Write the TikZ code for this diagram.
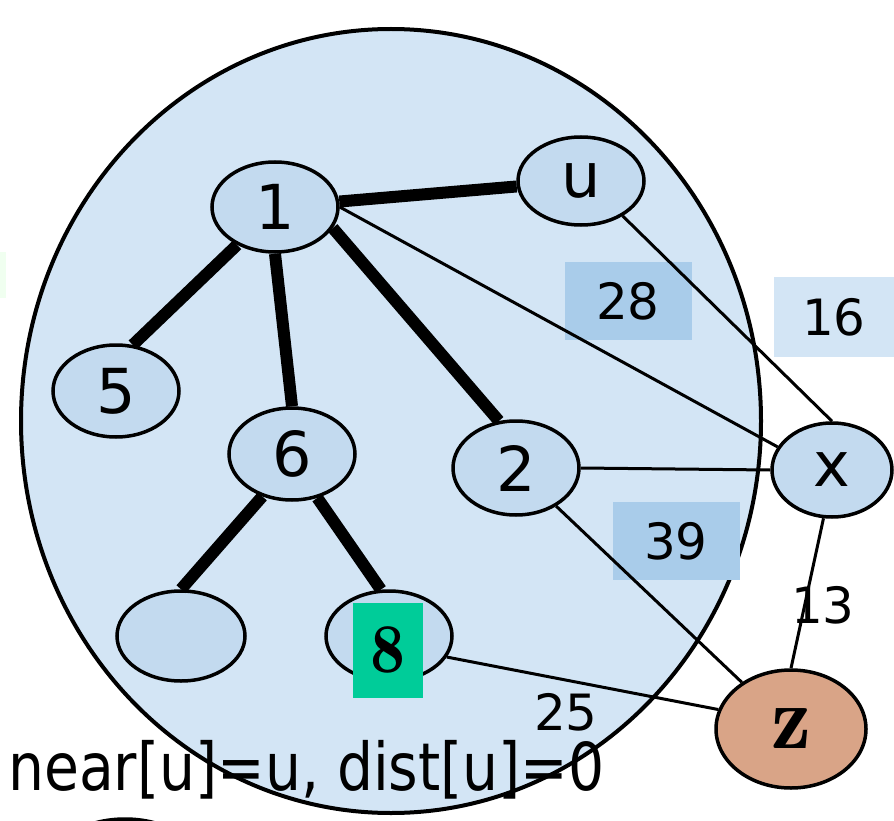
\documentclass[tikz,border=0pt]{standalone}
\usepackage{fontspec}
\usepackage{graphicx}
\setmainfont{DejaVu Sans}
\newcommand\labelserif{\fontfamily{lmr}\bfseries}
\usetikzlibrary{shapes.geometric}
\definecolor{setblue}{HTML}{D3E5F5}
\definecolor{nodeblue}{HTML}{C3DAEF}
\definecolor{boxblue}{HTML}{A9CCEA}
\definecolor{zbrown}{HTML}{D9A487}
\definecolor{mark}{HTML}{00CC99}

\begin{document}
\begin{tikzpicture}[x=1pt,y=-1pt,
    vertex/.style={
      ellipse,
      draw=black,
      line width=3.5pt,
      fill=nodeblue,
      minimum width=126pt,
      minimum height=90pt,
      inner sep=0pt,
      font=\fontsize{62}{62}\selectfont
    },
    treeedge/.style={line width=12pt},
    graphedge/.style={line width=3pt},
    weight/.style={inner sep=0pt, font=\fontsize{50}{50}\selectfont},
    weightbox/.style={weight, minimum width=127pt, minimum height=78pt}
  ]
    \useasboundingbox (0,0) rectangle (894,821);

    \draw[line width=4pt, fill=setblue] (391,421) ellipse (370 and 392);
    \fill[green!6] (0,252) rectangle (6,298);
    \draw[line width=3.5pt] (125,862) ellipse (72 and 43);

    \node[weightbox, fill=boxblue] (w28) at (628,301) {28};
    \node[weightbox, fill=setblue, minimum width=121pt, minimum height=80pt]
      (w16) at (834,317) {16};
    \node[weightbox, fill=boxblue] (w39) at (676,541) {39};

    \node[vertex] (n1) at (275,207) {1};
    \node[vertex, minimum height=88pt] (u) at (581,181) {u};
    \node[vertex, minimum height=92pt] (n5) at (116,391) {5};
    \node[vertex, minimum height=92pt] (n6) at (292,454) {6};
    \node[vertex, minimum height=94pt] (n2) at (516,468) {2};
    \node[vertex, minimum width=120pt, minimum height=94pt] (x) at (832,470) {x};
    \node[vertex, minimum width=150pt, minimum height=118pt, fill=zbrown,
      font=\labelserif\fontsize{90}{90}\selectfont] (z) at (791,729) {z};
    \node[vertex, minimum width=128pt] (leaf) at (181,636) {};
    \node[vertex] (n8) at (389,636) {};
    \node[fill=mark, minimum width=70pt, minimum height=95pt, inner sep=0pt,
      font=\labelserif\fontsize{70}{70}\selectfont] (mark8) at (388,650) {8};

    \draw[treeedge] (n1) -- (u);
    \draw[treeedge] (n1.225) -- (n5.70);
    \draw[treeedge] (n1.south) -- (n6.north);
    \draw[treeedge] (n1.-20) -- (n2.110);
    \draw[treeedge] (n6.-125) -- (leaf.north);
    \draw[treeedge] (n6.-60) -- (n8.100);

    \draw[graphedge] (n1.east) -- (x.157);
    \draw[graphedge] (u.-40) -- (x.north);
    \draw[graphedge] (n2.east) -- (x.west);
    \draw[graphedge] (n2) -- (z);
    \draw[graphedge] (n8.-20) -- (z.165);
    \draw[graphedge] (x.-100) -- (z.north);

    \node[weight] (w13) at (823,605) {13};
    \node[weight] (w25) at (566,712) {25};

    \node[anchor=base west, inner sep=0pt, font=\fontsize{66}{66}\selectfont]
      (init) at (8,790) {\scalebox{0.86}[1]{near[u]=u, dist[u]=0}};
  \end{tikzpicture}
\end{document}
